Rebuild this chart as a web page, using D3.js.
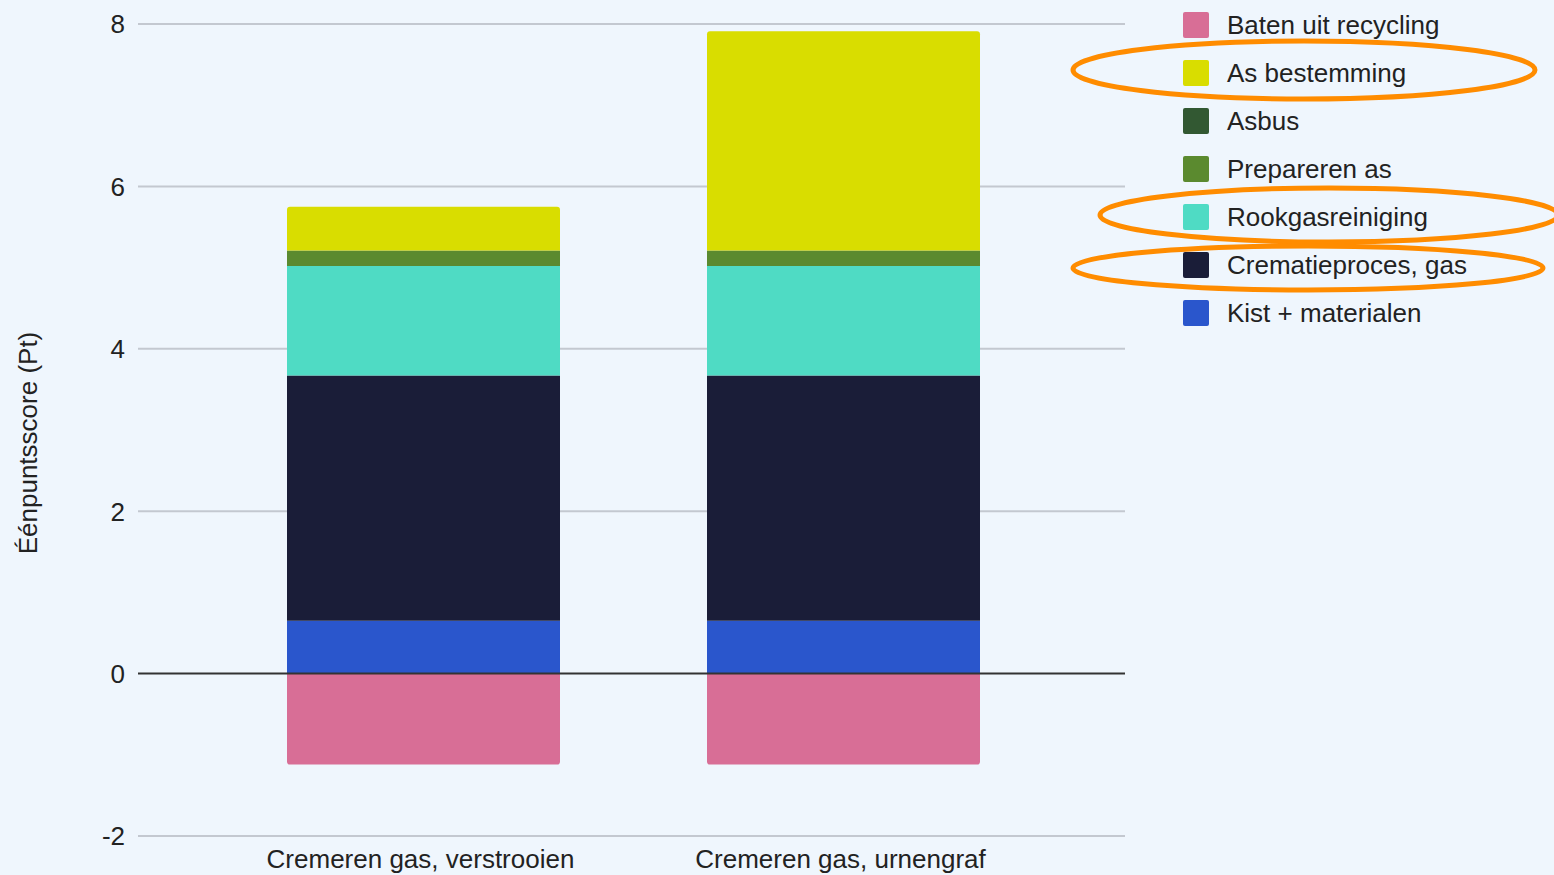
<!DOCTYPE html>
<html>
<head>
<meta charset="utf-8">
<script src="https://cdn.jsdelivr.net/npm/d3@7"></script>
<style>
  html, body { margin: 0; padding: 0; background: #eff6fd; }
  svg { display: block; }
  text { font-family: "Liberation Sans", Arial, sans-serif; fill: #222; }
</style>
</head>
<body>
<svg id="chart" width="1554" height="875"></svg>
<script>
// Scenario categories
const categories = ["Cremeren gas, verstrooien", "Cremeren gas, urnengraf"];

// Series (stacked from the bottom upward), values in Pt
const seriesNames = ["Kist + materialen", "Crematieproces, gas", "Rookgasreiniging", "Prepareren as", "Asbus", "As bestemming", "Baten uit recycling"];
const kistMaterialen   = [0.65, 0.65];
const crematieproces   = [3.02, 3.02];
const rookgasreiniging = [1.35, 1.35];
const prepareren       = [0.19, 0.19];
const asbus            = [0.0, 0.0];
const asBestemming     = [0.54, 2.70];
const batenRecycling   = [-1.12, -1.12];

// Legend order (top to bottom)
const legendOrder = ["Baten uit recycling", "As bestemming", "Asbus", "Prepareren as", "Rookgasreiniging", "Crematieproces, gas", "Kist + materialen"];
// Legend entries that get a highlight ring
const highlighted = ["As bestemming", "Rookgasreiniging", "Crematieproces, gas"];

const yTicks = [-2, 0, 2, 4, 6, 8];

const colors = {
  "Baten uit recycling": "#d86e96",
  "As bestemming": "#d9dd00",
  "Asbus": "#325832",
  "Prepareren as": "#5b8a2f",
  "Rookgasreiniging": "#4fdbc4",
  "Crematieproces, gas": "#1a1d38",
  "Kist + materialen": "#2a56cc"
};

const seriesValues = {
  "Kist + materialen": kistMaterialen,
  "Crematieproces, gas": crematieproces,
  "Rookgasreiniging": rookgasreiniging,
  "Prepareren as": prepareren,
  "Asbus": asbus,
  "As bestemming": asBestemming,
  "Baten uit recycling": batenRecycling
};

const rows = categories.map((c, i) => {
  const r = { category: c };
  seriesNames.forEach(s => { r[s] = seriesValues[s][i]; });
  return r;
});

const svg = d3.select("#chart");
const plot = { left: 138, right: 1125, top: 24, bottom: 836 };

const x = d3.scaleBand()
  .domain(categories)
  .range([plot.left + 2, plot.right + 2])
  .paddingInner(0.35)
  .paddingOuter(0.35);

const y = d3.scaleLinear()
  .domain([-2, 8])
  .range([plot.bottom, plot.top]);

// Gridlines
svg.append("g")
  .selectAll("line")
  .data(yTicks.filter(t => t !== 0))
  .join("line")
  .attr("x1", plot.left).attr("x2", plot.right)
  .attr("y1", d => y(d)).attr("y2", d => y(d))
  .attr("stroke", "#c3c8d0").attr("stroke-width", 2);

// Y tick labels
svg.append("g")
  .selectAll("text")
  .data(yTicks)
  .join("text")
  .attr("x", 125)
  .attr("y", d => y(d))
  .attr("dy", "0.36em")
  .attr("text-anchor", "end")
  .attr("font-size", 26)
  .text(d => d);

// Y axis title
svg.append("text")
  .attr("transform", "translate(37,443) rotate(-90)")
  .attr("text-anchor", "middle")
  .attr("font-size", 26)
  .text("Éénpuntsscore (Pt)");

// Stacked bars with diverging offset
const stack = d3.stack()
  .keys(seriesNames)
  .offset(d3.stackOffsetDiverging);
const layers = stack(rows);

// Rounded path for the outermost segment: round only the end away from zero
function segPath(x0, w, yTop, yBot, roundTop, roundBot, r) {
  const h = yBot - yTop;
  if (h <= 0) return "";
  const rt = roundTop ? Math.min(r, h / 2) : 0;
  const rb = roundBot ? Math.min(r, h / 2) : 0;
  return `M${x0},${yTop + rt}` +
    (rt ? `Q${x0},${yTop} ${x0 + rt},${yTop}` : "") +
    `L${x0 + w - rt},${yTop}` +
    (rt ? `Q${x0 + w},${yTop} ${x0 + w},${yTop + rt}` : "") +
    `L${x0 + w},${yBot - rb}` +
    (rb ? `Q${x0 + w},${yBot} ${x0 + w - rb},${yBot}` : "") +
    `L${x0 + rb},${yBot}` +
    (rb ? `Q${x0},${yBot} ${x0},${yBot - rb}` : "") +
    "Z";
}

const bars = svg.append("g");
categories.forEach((c, i) => {
  const posLayers = layers.filter(l => l[i][1] > l[i][0] && l[i][0] >= 0);
  const topKey = posLayers.length ? posLayers.reduce((a, b) => (b[i][1] > a[i][1] ? b : a)).key : null;
  const negLayers = layers.filter(l => l[i][0] < 0);
  const botKey = negLayers.length ? negLayers.reduce((a, b) => (b[i][0] < a[i][0] ? b : a)).key : null;
  layers.forEach(l => {
    const [v0, v1] = l[i];
    if (v1 === v0) return;
    const yTop = y(Math.max(v0, v1));
    const yBot = y(Math.min(v0, v1));
    bars.append("path")
      .attr("d", segPath(x(c), x.bandwidth(), yTop, yBot, l.key === topKey, l.key === botKey, 3))
      .attr("fill", colors[l.key]);
  });
});

// Zero line
svg.append("line")
  .attr("x1", plot.left).attr("x2", plot.right)
  .attr("y1", y(0)).attr("y2", y(0))
  .attr("stroke", "#333").attr("stroke-width", 2);

// X category labels
svg.append("g")
  .selectAll("text")
  .data(categories)
  .join("text")
  .attr("x", d => x(d) + x.bandwidth() / 2 - 3)
  .attr("y", 868)
  .attr("text-anchor", "middle")
  .attr("font-size", 26)
  .text(d => d);

// Legend
const legend = svg.append("g").attr("transform", "translate(1183,25)");
const items = legend.selectAll("g")
  .data(legendOrder)
  .join("g")
  .attr("transform", (d, i) => `translate(0,${i * 48})`);
items.append("rect")
  .attr("x", 0).attr("y", -13)
  .attr("width", 26).attr("height", 26)
  .attr("rx", 2)
  .attr("fill", d => colors[d]);
items.append("text")
  .attr("x", 44).attr("y", 0)
  .attr("dy", "0.36em")
  .attr("font-size", 26)
  .text(d => d);

// Highlight rings around selected legend entries
const rings = {
  "As bestemming":       { cx: 1304, cy: 70,  rx: 231, ry: 29 },
  "Rookgasreiniging":    { cx: 1329, cy: 215, rx: 229, ry: 27 },
  "Crematieproces, gas": { cx: 1308, cy: 268, rx: 235, ry: 22 }
};
svg.append("g")
  .selectAll("ellipse")
  .data(highlighted)
  .join("ellipse")
  .attr("cx", d => rings[d].cx)
  .attr("cy", d => rings[d].cy)
  .attr("rx", d => rings[d].rx)
  .attr("ry", d => rings[d].ry)
  .attr("fill", "none")
  .attr("stroke", "#ff8c00")
  .attr("stroke-width", 5);
</script>
</body>
</html>
